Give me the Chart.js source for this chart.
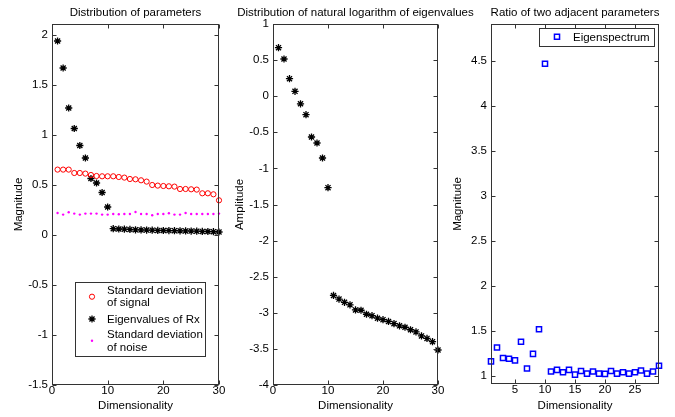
<!DOCTYPE html>
<html>
<head>
<meta charset="utf-8">
<script src="https://cdn.jsdelivr.net/npm/chart.js@4.4.0/dist/chart.umd.min.js"></script>
<style>
html, body { margin: 0; padding: 0; background: #fff; }
#wrap { position: relative; width: 675px; height: 417px; }
#wrap canvas { position: absolute; left: 0; top: 0; }
</style>
</head>
<body>
<div id="wrap">
    <canvas id="pParams" width="675" height="417"></canvas>
    <canvas id="pLog" width="675" height="417"></canvas>
    <canvas id="pRatio" width="675" height="417"></canvas>
</div>
<script>
// values
const dims30 = [1,2,3,4,5,6,7,8,9,10,11,12,13,14,15,16,17,18,19,20,21,22,23,24,25,26,27,28,29,30];
const dims29 = [1,2,3,4,5,6,7,8,9,10,11,12,13,14,15,16,17,18,19,20,21,22,23,24,25,26,27,28,29];

const signalStd = [0.654,0.654,0.654,0.62,0.62,0.614,0.60,0.59,0.587,0.587,0.587,0.58,0.574,0.56,0.557,
                   0.547,0.534,0.50,0.494,0.49,0.487,0.484,0.46,0.46,0.457,0.454,0.417,0.417,0.407,0.347];
const eigenRx = [1.94,1.67,1.27,1.065,0.895,0.77,0.565,0.52,0.425,0.28,0.063,0.060,0.058,0.056,0.052,
                 0.051,0.049,0.048,0.046,0.045,0.044,0.043,0.042,0.041,0.039,0.038,0.036,0.035,0.033,0.030];
const noiseStd = [0.22,0.204,0.227,0.214,0.204,0.214,0.214,0.214,0.204,0.204,0.21,0.207,0.21,0.21,0.23,
                  0.21,0.21,0.197,0.21,0.21,0.217,0.204,0.204,0.22,0.21,0.21,0.21,0.21,0.21,0.214];
const logEigen = [0.672,0.515,0.243,0.067,-0.105,-0.256,-0.565,-0.648,-0.856,-1.267,-2.76,-2.81,-2.855,-2.89,-2.96,
                  -2.965,-3.02,-3.04,-3.075,-3.095,-3.12,-3.15,-3.18,-3.2,-3.235,-3.265,-3.32,-3.355,-3.40,-3.515];
const adjRatio = [1.162,1.316,1.199,1.192,1.173,1.38,1.083,1.245,1.519,4.465,1.049,1.068,1.041,1.068,1.015,
                  1.056,1.026,1.049,1.026,1.023,1.056,1.026,1.041,1.026,1.041,1.06,1.026,1.049,1.113];

const paramsXTicks = [0,10,20,30];
const paramsYTicks = [-1.5,-1,-0.5,0,0.5,1,1.5,2];
const logXTicks = [0,10,20,30];
const logYTicks = [-4,-3.5,-3,-2.5,-2,-1.5,-1,-0.5,0,0.5,1];
const ratioXTicks = [5,10,15,20,25];
const ratioYTicks = [1,1.5,2,2.5,3,3.5,4,4.5];

const FONT = '"Liberation Sans", Arial, Helvetica, sans-serif';
const FSIZE = 11.5;
Chart.defaults.font.family = FONT;
Chart.defaults.font.size = FSIZE;
Chart.defaults.color = '#000';

const pts = (xs, ys) => xs.map((x, i) => ({x: x, y: ys[i]}));

// black '*' marker style shared by two panels
const starMark = {pointStyle: 'star', pointRadius: 3.6, pointBorderWidth: 1.3,
                  pointBorderColor: '#000', pointBackgroundColor: '#000'};

// box with inward ticks on all four sides, title, optional legend
function matlabLook(title, legend) {
    return {
        id: 'matlabLook',
        afterDatasetsDraw(chart) {
            const {ctx, chartArea: a, scales: {x, y}} = chart;
            ctx.save();
            ctx.strokeStyle = '#333';
            ctx.lineWidth = 1;
            const L = Math.round(a.left) + 0.5, R = Math.round(a.right) - 0.5;
            const T = Math.round(a.top) + 0.5, B = Math.round(a.bottom) - 0.5;
            ctx.strokeRect(L, T, R - L, B - T);
            ctx.beginPath();
            x.ticks.forEach(t => {
                const px = Math.round(x.getPixelForValue(t.value)) + 0.5;
                ctx.moveTo(px, B); ctx.lineTo(px, B - 4);
                ctx.moveTo(px, T); ctx.lineTo(px, T + 4);
            });
            y.ticks.forEach(t => {
                const py = Math.round(y.getPixelForValue(t.value)) + 0.5;
                ctx.moveTo(L, py); ctx.lineTo(L + 4, py);
                ctx.moveTo(R, py); ctx.lineTo(R - 4, py);
            });
            ctx.stroke();

            if (legend) {
                const f = legend.frame;
                ctx.fillStyle = '#fff';
                ctx.fillRect(f.x, f.y, f.w, f.h);
                ctx.strokeStyle = '#333';
                ctx.strokeRect(f.x + 0.5, f.y + 0.5, f.w, f.h);
                legend.rows.forEach(r => {
                    const ds = chart.data.datasets[r.ds];
                    ctx.strokeStyle = ds.pointBorderColor;
                    ctx.fillStyle = ds.pointBackgroundColor;
                    ctx.lineWidth = ds.pointBorderWidth;
                    Chart.helpers.drawPoint(ctx, {
                        pointStyle: ds.pointStyle, radius: ds.pointRadius,
                        borderWidth: ds.pointBorderWidth, rotation: 0
                    }, r.mx, r.my);
                    ctx.fillStyle = '#000';
                    ctx.font = FSIZE + 'px ' + FONT;
                    ctx.textAlign = 'left';
                    ctx.textBaseline = 'alphabetic';
                    r.lines.forEach((s, k) => ctx.fillText(s, legend.textX, r.base[k]));
                });
            }
            ctx.restore();
        },
        afterDraw(chart) {
            const {ctx, chartArea: a} = chart;
            ctx.save();
            ctx.fillStyle = '#000';
            ctx.font = FSIZE + 'px ' + FONT;
            ctx.textAlign = 'center';
            ctx.textBaseline = 'alphabetic';
            ctx.fillText(title, (a.left + a.right) / 2, 15.5);
            ctx.restore();
        }
    };
}

function makePanel(id, area, xr, yr, xTicks, yTicks, yLabel, title, datasets, legend) {
    const yAxisW = 46;
    return new Chart(document.getElementById(id), {
        type: 'scatter',
        data: {datasets: datasets},
        options: {
            responsive: false,
            animation: false,
            events: [],
            layout: {padding: {left: area.l - yAxisW, top: area.t, right: 675 - area.r, bottom: 0}},
            plugins: {legend: {display: false}, tooltip: {enabled: false}, title: {display: false}},
            scales: {
                x: {
                    type: 'linear', min: xr[0], max: xr[1],
                    grid: {display: false, drawTicks: false}, border: {display: false},
                    afterBuildTicks: s => { s.ticks = xTicks.map(v => ({value: v})); },
                    afterFit: s => { s.height = 417 - area.b; },
                    ticks: {padding: -1, maxRotation: 0, autoSkip: false, callback: v => String(v)},
                    title: {display: true, text: 'Dimensionality', padding: {top: 0, bottom: 4}}
                },
                y: {
                    type: 'linear', min: yr[0], max: yr[1],
                    grid: {display: false, drawTicks: false}, border: {display: false},
                    afterBuildTicks: s => { s.ticks = yTicks.map(v => ({value: v})); },
                    afterFit: s => { s.width = yAxisW; },
                    ticks: {padding: 4, autoSkip: false, callback: v => String(v)},
                    title: {display: true, text: yLabel, padding: {top: 6, bottom: 0}}
                }
            }
        },
        plugins: [matlabLook(title, legend)]
    });
}

makePanel('pParams', {l: 52, t: 24, r: 219, b: 385}, [0, 30], [-1.5, 2.11],
    paramsXTicks, paramsYTicks, 'Magnitude', 'Distribution of parameters',
    [
        {label: 'Standard deviation of signal', data: pts(dims30, signalStd), clip: false,
         pointStyle: 'circle', pointRadius: 2.6, pointBorderWidth: 1,
         pointBorderColor: '#ff0000', pointBackgroundColor: 'rgba(0,0,0,0)'},
        Object.assign({label: 'Eigenvalues of Rx', data: pts(dims30, eigenRx), clip: false}, starMark),
        {label: 'Standard deviation of noise', data: pts(dims30, noiseStd), clip: false,
         pointStyle: 'circle', pointRadius: 1.2, pointBorderWidth: 0,
         pointBorderColor: '#ff00ff', pointBackgroundColor: '#ff00ff'}
    ],
    {
        frame: {x: 75, y: 282, w: 130, h: 74},
        textX: 107,
        rows: [
            {ds: 0, mx: 92, my: 296.7, lines: ['Standard deviation', 'of signal'], base: [293.6, 305.8]},
            {ds: 1, mx: 92, my: 319, lines: ['Eigenvalues of Rx'], base: [323.4]},
            {ds: 2, mx: 92, my: 340.7, lines: ['Standard deviation', 'of noise'], base: [338.4, 351.1]}
        ]
    });

makePanel('pLog', {l: 273, t: 24, r: 438, b: 385}, [0, 30], [-4, 1],
    logXTicks, logYTicks, 'Amplitude', 'Distribution of natural logarithm of eigenvalues',
    [
        Object.assign({label: 'ln eigenvalues', data: pts(dims30, logEigen), clip: false}, starMark)
    ], null);

makePanel('pRatio', {l: 491, t: 24, r: 659, b: 384}, [1, 29], [0.911, 4.907],
    ratioXTicks, ratioYTicks, 'Magnitude', 'Ratio of two adjacent parameters',
    [
        {label: 'Eigenspectrum', data: pts(dims29, adjRatio), clip: false,
         pointStyle: 'rect', pointRadius: 3.6, pointBorderWidth: 1.5,
         pointBorderColor: '#0000ff', pointBackgroundColor: 'rgba(0,0,0,0)'}
    ],
    {
        frame: {x: 539, y: 28, w: 115, h: 18},
        textX: 573,
        rows: [
            {ds: 0, mx: 557, my: 36.7, lines: ['Eigenspectrum'], base: [40.7]}
        ]
    });
</script>
</body>
</html>
